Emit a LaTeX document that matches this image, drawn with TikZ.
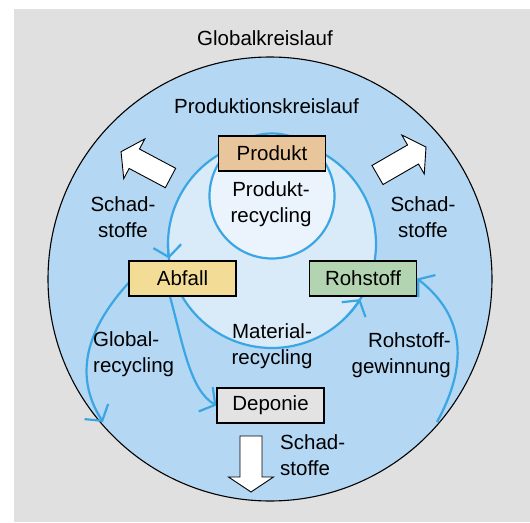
\documentclass[tikz,border=0pt]{standalone}
\usepackage{fontspec}
\setmainfont{Liberation Sans}
\usetikzlibrary{arrows.meta}
\definecolor{bggray}{HTML}{E0E0E0}
\definecolor{outerblue}{HTML}{B4D7F3}
\definecolor{midblue}{HTML}{D9EAF9}
\definecolor{innerblue}{HTML}{EBF4FC}
\definecolor{lineblue}{HTML}{3AA6E3}
\definecolor{prodfill}{HTML}{E9C59B}
\definecolor{abfallfill}{HTML}{F3DD96}
\definecolor{rohfill}{HTML}{B3D4B0}
\definecolor{depfill}{HTML}{E3E3E3}
\pgfdeclarelayer{bglayer}
\pgfdeclarelayer{midlayer}
\pgfsetlayers{bglayer,midlayer,main}
\tikzset{
  txt/.style={font=\fontsize{20.5}{26.5}\selectfont, inner sep=0pt},
  box/.style={draw=black, line width=1.1pt, minimum width=107pt, minimum height=35pt, inner sep=0pt, font=\fontsize{20.5}{26}\selectfont},
  flow/.style={draw=lineblue, line width=2.2pt},
  tipflow/.style={flow, -{Straight Barb[length=11pt,width=28pt]}},
  blockarrow/.pic={\draw[fill=white, line width=0.9pt] (0,-11) -- (41,-11) -- (41,-22.5) -- (56,0) -- (41,22.5) -- (41,11) -- (0,11) -- cycle;}
}
\begin{document}
\begin{tikzpicture}[x=1pt,y=-1pt]
\useasboundingbox (0,0) rectangle (530,522);
% boxes
\node[box, fill=prodfill] (produkt) at (272,153.5) {Produkt};
\node[box, fill=abfallfill] (abfall) at (182.5,278.5) {Abfall};
\node[box, fill=rohfill] (rohstoff) at (363,278.5) {Rohstoff};
\node[box, fill=depfill] (deponie) at (270.5,405.5) {Deponie};
\coordinate (gend) at (103,422);
\coordinate (rstart) at (437,422);
\coordinate (outerc) at (270,279);
\coordinate (midc) at (272,244);
\coordinate (innerc) at (272,196);
% background
\begin{pgfonlayer}{bglayer}
\fill[bggray] (14,9) rectangle (530,522);
\draw[fill=outerblue, line width=1.1pt] (outerc) circle[radius=222];
\end{pgfonlayer}
\begin{pgfonlayer}{midlayer}
\draw[flow, fill=midblue] (midc) circle[radius=104];
\draw[flow, fill=innerblue] (innerc) circle[radius=62.5];
\draw[tipflow] (midc) ++(180:104) arc[start angle=180, end angle=172, radius=104];
\draw[tipflow] (midc) ++(45:104) arc[start angle=45, end angle=32, radius=104];
\draw[tipflow] ([xshift=-12.5pt]abfall.south) .. controls +(13.5,50) and +(-26,-15) .. (deponie.west);
\draw[tipflow] ([yshift=-4.5pt]abfall.west) .. controls +(-38,42) and +(-32,-50) .. (gend);
\draw[tipflow] (rstart) .. controls +(30,-55) and +(50,39) .. (rohstoff.east);
\end{pgfonlayer}
% texts
\node[txt] (global) at (265,38) {Globalkreislauf};
\node[txt] (produktion) at (266.5,106.5) {Produktionskreislauf};
\node[txt, align=center] (prodrec) at (271,204) {Produkt-\\recycling};
\node[txt, align=center] (schadl) at (123,217) {Schad-\\stoffe};
\node[txt, align=center] (schadr) at (423,217) {Schad-\\stoffe};
\node[txt, align=left, anchor=west] (globrec) at (93,354) {Global-\\recycling};
\node[txt, align=center] (matrec) at (272,346) {Material-\\recycling};
\node[txt, align=right, anchor=east] (rohgew) at (451,355) {Rohstoff-\\gewinnung};
\node[txt, align=left, anchor=west] (schadb) at (280,455) {Schad-\\stoffe};
% block arrows
\pic[rotate=152] at (170.5,178) {blockarrow};
\pic[rotate=30] at (377.5,175) {blockarrow};
\pic[rotate=-90] at (251,436) {blockarrow};
\end{tikzpicture}
\end{document}
